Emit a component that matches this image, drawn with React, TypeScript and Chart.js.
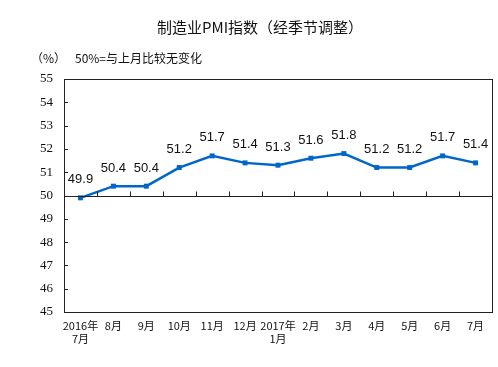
import React, { useEffect, useRef } from "react";
import { Chart, registerables } from "chart.js";

Chart.register(...registerables);

const categories: (string | string[])[] = [
  ["2016年", "7月"], "8月", "9月", "10月", "11月", "12月",
  ["2017年", "1月"], "2月", "3月", "4月", "5月", "6月", "7月",
];
const pmiValues = [49.9, 50.4, 50.4, 51.2, 51.7, 51.4, 51.3, 51.6, 51.8, 51.2, 51.2, 51.7, 51.4];
const yMin = 45;
const yMax = 55;
const baseline = 50;
const titleText = "制造业PMI指数（经季节调整）";
const unitText = "（%）";
const noteText = "50%=与上月比较无变化";

const LINE_COLOR = "#0066CC";
const AXIS_COLOR = "#222222";
const CJK = '"Noto Sans CJK SC", "Noto Sans", sans-serif';

const overlayPlugin = {
  id: "overlay",
  afterDraw(chart: any) {
    const { ctx, chartArea, scales } = chart;
    const x = scales.x;
    const y = scales.y;
    ctx.save();
    ctx.strokeStyle = AXIS_COLOR;
    ctx.lineWidth = 1;
    ctx.strokeRect(
      Math.round(chartArea.left) + 0.5,
      Math.round(chartArea.top) + 0.5,
      Math.round(chartArea.right - chartArea.left),
      Math.round(chartArea.bottom - chartArea.top)
    );
    const yb = Math.round(y.getPixelForValue(baseline)) + 0.5;
    ctx.beginPath();
    ctx.moveTo(chartArea.left, yb);
    ctx.lineTo(chartArea.right, yb);
    for (let v = yMin + 1; v < yMax; v++) {
      const py = Math.round(y.getPixelForValue(v)) + 0.5;
      ctx.moveTo(chartArea.left, py);
      ctx.lineTo(chartArea.left + 4, py);
    }
    for (let i = 0; i < categories.length - 1; i++) {
      const px = Math.round((x.getPixelForValue(i) + x.getPixelForValue(i + 1)) / 2) + 0.5;
      ctx.moveTo(px, yb);
      ctx.lineTo(px, yb - 5);
    }
    ctx.stroke();

    ctx.fillStyle = "#111";
    ctx.textBaseline = "middle";
    ctx.textAlign = "center";
    ctx.font = `15px ${CJK}`;
    ctx.fillText(titleText, 260, 27);
    ctx.textAlign = "left";
    ctx.font = `12px ${CJK}`;
    ctx.fillText(unitText, 31, 58);
    ctx.fillText(noteText, 75, 58);
    ctx.restore();
  },
  afterDatasetsDraw(chart: any) {
    const { ctx } = chart;
    const meta = chart.getDatasetMeta(0);
    ctx.save();
    ctx.fillStyle = "#111";
    ctx.font = '13px "Liberation Sans", Arial, sans-serif';
    ctx.textAlign = "center";
    ctx.textBaseline = "middle";
    meta.data.forEach((pt: any, i: number) => {
      ctx.fillText(pmiValues[i].toFixed(1), pt.x, pt.y - 18);
    });
    ctx.restore();
  },
};

export default function App() {
  const ref = useRef<HTMLCanvasElement>(null);
  useEffect(() => {
    document.body.style.margin = "0";
    const chart = new Chart(ref.current!, {
      type: "line",
      data: {
        labels: categories as any,
        datasets: [
          {
            data: pmiValues,
            borderColor: LINE_COLOR,
            backgroundColor: LINE_COLOR,
            borderWidth: 2.5,
            pointStyle: "rect",
            pointRadius: 3.5,
            pointBorderWidth: 0,
            tension: 0,
          },
        ],
      },
      options: {
        animation: false,
        responsive: false,
        maintainAspectRatio: false,
        layout: { padding: { top: 79, right: 6, left: 0, bottom: 0 } },
        plugins: { legend: { display: false }, tooltip: { enabled: false } },
        scales: {
          x: {
            offset: true,
            grid: { display: false, drawTicks: false },
            border: { display: false },
            ticks: {
              font: { family: CJK, size: 11 },
              color: "#111",
              padding: 7,
              maxRotation: 0,
              autoSkip: false,
            },
            afterFit: (s: any) => { s.height = 55; },
          },
          y: {
            min: yMin,
            max: yMax,
            grid: { display: false, drawTicks: false },
            border: { display: false },
            ticks: {
              stepSize: 1,
              font: { family: '"Liberation Serif", "Times New Roman", serif', size: 13 },
              color: "#111",
              padding: 11,
            },
            afterFit: (s: any) => { s.width = 64; },
          },
        },
      },
      plugins: [overlayPlugin],
    });
    return () => chart.destroy();
  }, []);
  return <canvas ref={ref} width={498} height={367} style={{ display: "block" }} />;
}
